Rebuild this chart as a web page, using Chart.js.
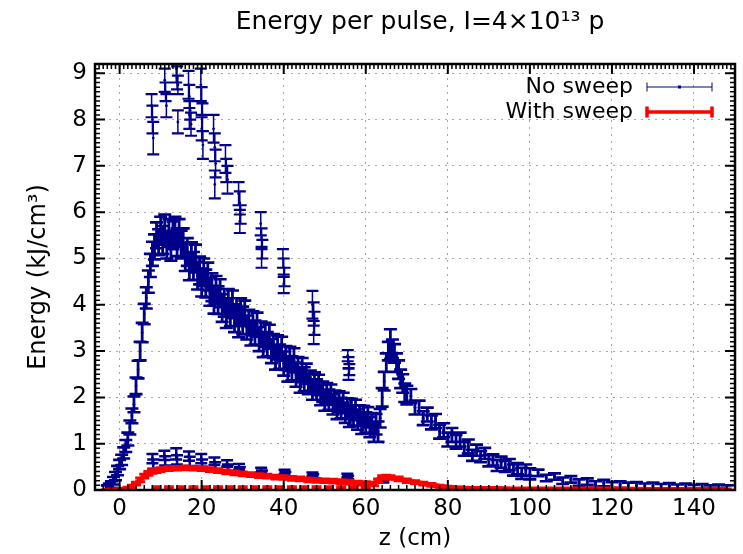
<!DOCTYPE html>
<html>
<head>
<meta charset="utf-8">
<title>Energy per pulse</title>
<script src="https://cdn.jsdelivr.net/npm/chart.js@4.4.1/dist/chart.umd.min.js"></script>
<style>
  html, body { margin: 0; padding: 0; background: #fff; }
</style>
</head>
<body>
<canvas id="myChart" width="743" height="554"></canvas>
<script>
// DATOS: z (cm), energia (kJ/cm3) y barra de error

// No sweep, banda principal
const zMain = [-3, -2.5, -2, -1.5, -1, -0.5, 0, 0.5, 1, 1.5, 2, 2.5, 3, 3.5, 4, 4.5, 5, 5.5, 6, 6.5, 7, 7.5, 8, 8.5, 9, 9.5, 10, 10.5, 11, 11.5, 12, 12.5, 13, 13.5, 14, 14.5, 15,
  15.5, 16, 16.5, 17, 17.5, 18, 18.5, 19, 19.5, 20, 20.5, 21, 21.5, 22, 22.5, 23, 23.5, 24, 24.5, 25, 25.5, 26, 26.5, 27, 27.5, 28, 28.5, 29, 29.5, 30,
  30.5, 31, 31.5, 32, 32.5, 33, 33.5, 34, 34.5, 35, 35.5, 36, 36.5, 37, 37.5, 38, 38.5, 39, 39.5, 40, 40.5, 41, 41.5, 42, 42.5, 43, 43.5, 44, 44.5, 45,
  45.5, 46, 46.5, 47, 47.5, 48, 48.5, 49, 49.5, 50, 50.5, 51, 51.5, 52, 52.5, 53, 53.5, 54, 54.5, 55, 55.5, 56, 56.5, 57, 57.5, 58, 58.5, 59, 59.5, 60, 60.5, 61, 61.5, 62, 62.5, 63,
  63.5, 64, 64.5, 65, 65.5, 66, 66.5, 67, 67.5, 68, 68.5, 69, 69.5, 70,
  71, 72, 73, 74, 75, 76, 77, 78, 79, 80, 81, 82, 83, 84, 85, 86, 87, 88, 89, 90, 91, 92, 93, 94, 95, 96, 97, 98, 99, 100,
  102, 104, 106, 108, 110, 112, 114, 116, 118, 120, 122, 124, 126, 128, 130, 132, 134, 136, 138, 140, 142, 144, 146, 148];
const eMain = [0.05, 0.08, 0.12, 0.2, 0.3, 0.42, 0.55, 0.65, 0.8, 0.95, 1.1, 1.35, 1.6, 1.85, 2.25, 2.6, 3.0, 3.4, 3.8, 4.15, 4.5, 4.85, 5.1, 5.25, 5.5, 5.35, 5.6, 5.4, 5.65, 5.3, 5.55, 5.25, 5.5, 5.6, 5.35, 5.55, 5.3,
  5.35, 5.03, 5.14, 4.83, 5.05, 4.84, 5.0, 4.63, 4.74, 4.48, 4.7, 4.46, 4.61, 4.28, 4.38, 4.11, 4.32, 4.1, 4.25, 3.93, 4.04, 3.8, 4.04, 3.84, 4.01, 3.71, 3.84, 3.6, 3.84, 3.66,
  3.83, 3.51, 3.63, 3.38, 3.6, 3.4, 3.57, 3.26, 3.38, 3.13, 3.35, 3.15, 3.31, 3.0, 3.11, 2.86, 3.08, 2.88, 3.05, 2.73, 2.85, 2.6, 2.83, 2.63, 2.8, 2.49, 2.61, 2.36, 2.59, 2.39,
  2.51, 2.29, 2.36, 2.17, 2.32, 2.17, 2.27, 2.05, 2.12, 1.93, 2.09, 1.95, 2.06, 1.85, 1.93, 1.75, 1.91, 1.77, 1.88, 1.67, 1.76, 1.58, 1.75, 1.61, 1.73, 1.52, 1.61, 1.43, 1.6, 1.46, 1.57, 1.36, 1.44, 1.26, 1.42, 1.26,
  1.55, 2.0, 2.35, 2.75, 3.0, 3.15, 3.05, 2.95, 2.75, 2.6, 2.4, 2.3, 2.1, 2.05,
  2.03, 1.78, 1.78, 1.55, 1.63, 1.46, 1.49, 1.26, 1.29, 1.09, 1.19, 1.04, 1.09, 0.89, 0.94, 0.75, 0.86, 0.72, 0.79, 0.63, 0.65, 0.53, 0.6, 0.51, 0.55, 0.43, 0.46, 0.36, 0.43, 0.35,
  0.37, 0.26, 0.29, 0.2, 0.23, 0.16, 0.18, 0.12, 0.15, 0.1, 0.12, 0.09, 0.1, 0.07, 0.09, 0.06, 0.08, 0.05, 0.07, 0.04, 0.06, 0.03, 0.05, 0.03];
const dMain = [0.05, 0.06, 0.07, 0.08, 0.09, 0.1, 0.1, 0.11, 0.12, 0.13, 0.14, 0.15, 0.16, 0.17, 0.18, 0.19, 0.2, 0.21, 0.22, 0.23, 0.24, 0.25, 0.26, 0.27, 0.28, 0.28, 0.3, 0.3, 0.3, 0.3, 0.3, 0.3, 0.3, 0.3, 0.3, 0.3, 0.3,
  0.3, 0.3, 0.3, 0.3, 0.3, 0.3, 0.3, 0.3, 0.3, 0.3, 0.3, 0.3, 0.3, 0.3, 0.3, 0.3, 0.3, 0.3, 0.3, 0.3, 0.3, 0.3, 0.3, 0.3, 0.3, 0.3, 0.3, 0.3, 0.3, 0.3,
  0.26, 0.26, 0.26, 0.26, 0.26, 0.26, 0.26, 0.26, 0.26, 0.26, 0.26, 0.26, 0.26, 0.26, 0.26, 0.26, 0.26, 0.26, 0.26, 0.26, 0.26, 0.26, 0.26, 0.26, 0.26, 0.26, 0.26, 0.26, 0.26, 0.26,
  0.22, 0.22, 0.22, 0.22, 0.22, 0.22, 0.22, 0.22, 0.22, 0.22, 0.22, 0.22, 0.22, 0.22, 0.22, 0.22, 0.22, 0.22, 0.22, 0.22, 0.22, 0.22, 0.22, 0.22, 0.22, 0.22, 0.22, 0.22, 0.22, 0.22, 0.22, 0.22, 0.22, 0.22, 0.22, 0.22,
  0.2, 0.2, 0.2, 0.2, 0.2, 0.32, 0.2, 0.2, 0.2, 0.2, 0.2, 0.2, 0.2, 0.2,
  0.15, 0.15, 0.15, 0.15, 0.15, 0.15, 0.15, 0.15, 0.15, 0.15, 0.15, 0.15, 0.15, 0.15, 0.15, 0.12, 0.12, 0.12, 0.12, 0.12, 0.12, 0.12, 0.12, 0.12, 0.12, 0.12, 0.12, 0.12, 0.12, 0.12,
  0.07, 0.07, 0.07, 0.07, 0.07, 0.07, 0.07, 0.07, 0.07, 0.07, 0.07, 0.07, 0.07, 0.07, 0.07, 0.07, 0.07, 0.07, 0.07, 0.07, 0.07, 0.07, 0.07, 0.07];

// No sweep, puntos sueltos altos
const zUp = [7.8, 8.0, 8.2, 11.0, 11.2, 11.4, 13.8, 14.0, 14.2, 14.2, 16.8, 17.0, 17.2, 17.0, 17.4, 19.8, 20.0, 20.2, 20.0, 20.3,
  22.9, 23.2, 23.4, 23.2, 25.8, 26.0, 26.3, 29.0, 29.3, 29.5, 29.3, 34.4, 34.6, 34.8, 34.6, 39.8, 40.0, 40.2, 40.0, 47.0, 47.3, 47.5, 47.3, 55.6, 55.8, 56.0, 55.8];
const eUp = [8.3, 8.0, 7.6, 8.85, 8.6, 8.3, 9.1, 8.9, 8.75, 7.95, 8.75, 8.5, 8.2, 8.1, 7.9, 8.75, 8.4, 8.05, 7.8, 7.45,
  7.8, 7.4, 7.05, 6.6, 7.15, 6.9, 6.7, 6.4, 6.2, 5.95, 5.8, 5.75, 5.45, 5.2, 5.0, 5.0, 4.8, 4.6, 4.45, 4.0, 3.8, 3.6, 3.4, 2.9, 2.75, 2.6, 2.5];
const dUp = [0.25, 0.3, 0.35, 0.25, 0.2, 0.25, 0.3, 0.25, 0.2, 0.25, 0.3, 0.25, 0.2, 0.3, 0.25, 0.35, 0.3, 0.3, 0.25, 0.3,
  0.3, 0.3, 0.3, 0.3, 0.3, 0.25, 0.3, 0.25, 0.25, 0.2, 0.25, 0.25, 0.2, 0.2, 0.2, 0.2, 0.2, 0.2, 0.2, 0.3, 0.25, 0.25, 0.25, 0.12, 0.12, 0.12, 0.12];

// No sweep, puntos sueltos bajos
const zLow = [8.0, 8.2, 10.9, 11.1, 13.8, 14.0, 16.9, 17.1, 19.9, 20.1, 23.1, 23.3, 26.2, 26.4, 29.1, 29.3, 34.5, 34.7, 40.2, 40.4, 47.0, 47.2, 55.5, 55.7, 64.1, 64.3];
const eLow = [0.68, 0.56, 0.75, 0.63, 0.78, 0.65, 0.73, 0.62, 0.68, 0.58, 0.62, 0.52, 0.57, 0.48, 0.5, 0.43, 0.43, 0.37, 0.39, 0.34, 0.34, 0.3, 0.31, 0.27, 0.22, 0.19];
const dLow = [0.1, 0.1, 0.1, 0.1, 0.12, 0.1, 0.1, 0.1, 0.1, 0.08, 0.08, 0.08, 0.07, 0.07, 0.06, 0.06, 0.05, 0.05, 0.05, 0.05, 0.04, 0.04, 0.04, 0.04, 0.03, 0.03];

// With sweep
const zRed = [-3, -2, -1, 0, 1, 2, 3, 4, 5, 6, 7, 8, 9, 10, 12, 14, 16, 18, 20, 22, 24, 26, 28, 30, 32, 34, 36, 38, 40, 42, 44, 46, 48, 50,
  52, 54, 56, 58, 60, 62, 63, 64, 65, 66, 68, 70, 72, 74, 76, 78, 80, 84, 88, 92, 96, 100, 110, 120, 130, 140, 148];
const eRed = [0, 0, 0, 0.01, 0.02, 0.04, 0.08, 0.14, 0.22, 0.3, 0.36, 0.4, 0.42, 0.44, 0.46, 0.47, 0.48, 0.47, 0.46, 0.44, 0.42, 0.39, 0.37, 0.35, 0.33, 0.31, 0.3, 0.28, 0.27, 0.25, 0.24, 0.22, 0.21, 0.2,
  0.19, 0.18, 0.17, 0.15, 0.14, 0.13, 0.2, 0.27, 0.28, 0.27, 0.24, 0.2, 0.17, 0.14, 0.11, 0.08, 0.06, 0.04, 0.03, 0.03, 0.02, 0.02, 0.02, 0.02, 0.01, 0.01, 0.01];
const dRed = [0.01, 0.01, 0.01, 0.01, 0.01, 0.02, 0.02, 0.03, 0.04, 0.04, 0.04, 0.04, 0.04, 0.04, 0.04, 0.04, 0.04, 0.04, 0.04, 0.04, 0.04, 0.04, 0.04, 0.04, 0.04, 0.04, 0.04, 0.04, 0.04, 0.04, 0.04, 0.04, 0.04, 0.04,
  0.04, 0.04, 0.04, 0.04, 0.04, 0.04, 0.04, 0.04, 0.04, 0.04, 0.04, 0.04, 0.03, 0.03, 0.03, 0.02, 0.02, 0.02, 0.01, 0.01, 0.01, 0.01, 0.01, 0.01, 0.01, 0.01, 0.01];

// With sweep, puntos en cero
const zRed0 = [9, 12, 15, 18, 21, 24, 27, 30, 33, 36, 39, 42, 45, 48, 51, 54, 57, 60];
const eRed0 = [0.06, 0.06, 0.06, 0.06, 0.06, 0.06, 0.06, 0.06, 0.06, 0.06, 0.06, 0.06, 0.06, 0.06, 0.06, 0.06, 0.06, 0.06];
const dRed0 = [0.01, 0.01, 0.01, 0.01, 0.01, 0.01, 0.01, 0.01, 0.01, 0.01, 0.01, 0.01, 0.01, 0.01, 0.01, 0.01, 0.01, 0.01];

// EJES
const xTicks = [0, 20, 40, 60, 80, 100, 120, 140];
const yTicks = [0, 1, 2, 3, 4, 5, 6, 7, 8, 9];
const titleText = 'Energy per pulse, I=4×10¹³ p';

const fam = '"DejaVu Sans", sans-serif';
const blue = 'rgb(0,0,139)';
const red = 'rgb(255,0,0)';

function toPts(zs, es) {
  return zs.map(function (z, i) { return { x: z, y: es[i] }; });
}

// Barras de error dibujadas con las escalas del grafico
const errorBars = {
  id: 'errorBars',
  afterDatasetDraw(chart, args) {
    const ds = chart.data.datasets[args.index];
    if (!ds.errors) return;
    const ctx = chart.ctx, xs = chart.scales.x, ys = chart.scales.y, a = chart.chartArea;
    ctx.save();
    ctx.beginPath();
    ctx.rect(a.left, a.top, a.right - a.left, a.bottom - a.top);
    ctx.clip();
    ctx.strokeStyle = ds.borderColor;
    // linea vertical
    ctx.lineWidth = ds.errWidth;
    ctx.beginPath();
    ds.data.forEach(function (p, i) {
      const px = xs.getPixelForValue(p.x);
      ctx.moveTo(px, ys.getPixelForValue(p.y + ds.errors[i]));
      ctx.lineTo(px, ys.getPixelForValue(p.y - ds.errors[i]));
    });
    ctx.stroke();
    // topes
    ctx.lineWidth = ds.capWidth;
    ctx.beginPath();
    ds.data.forEach(function (p, i) {
      const px = xs.getPixelForValue(p.x);
      const hi = ys.getPixelForValue(p.y + ds.errors[i]);
      const lo = ys.getPixelForValue(p.y - ds.errors[i]);
      ctx.moveTo(px - ds.cap, hi); ctx.lineTo(px + ds.cap, hi);
      ctx.moveTo(px - ds.cap, lo); ctx.lineTo(px + ds.cap, lo);
    });
    ctx.stroke();
    ctx.restore();
  }
};

// Marco, marcas hacia dentro, titulo y leyenda al estilo gnuplot
const frame = {
  id: 'frame',
  afterDraw(chart) {
    const ctx = chart.ctx, xs = chart.scales.x, ys = chart.scales.y, a = chart.chartArea;
    ctx.save();
    ctx.strokeStyle = '#000';
    ctx.lineWidth = 1.5;
    ctx.beginPath();
    for (let k = -2; k <= 74; k++) {
      const px = xs.getPixelForValue(k * 2);
      ctx.moveTo(px, a.bottom); ctx.lineTo(px, a.bottom - 5);
    }
    for (let k = -6; k <= 150; k++) {
      const px = xs.getPixelForValue(k);
      ctx.moveTo(px, a.top); ctx.lineTo(px, a.top + 5);
    }
    for (let k = 1; k <= 92; k++) {
      const py = ys.getPixelForValue(k / 10);
      ctx.moveTo(a.left, py); ctx.lineTo(a.left + 5, py);
      ctx.moveTo(a.right, py); ctx.lineTo(a.right - 5, py);
    }
    ctx.stroke();
    ctx.lineWidth = 2;
    ctx.beginPath();
    xTicks.forEach(function (v) {
      const px = xs.getPixelForValue(v);
      ctx.moveTo(px, a.bottom); ctx.lineTo(px, a.bottom - 10);
      ctx.moveTo(px, a.top); ctx.lineTo(px, a.top + 10);
    });
    yTicks.forEach(function (v) {
      const py = ys.getPixelForValue(v);
      ctx.moveTo(a.left, py); ctx.lineTo(a.left + 10, py);
      ctx.moveTo(a.right, py); ctx.lineTo(a.right - 10, py);
    });
    ctx.stroke();
    ctx.lineWidth = 2.5;
    ctx.strokeRect(a.left, a.top, a.right - a.left, a.bottom - a.top);

    // titulo
    ctx.fillStyle = '#000';
    ctx.textBaseline = 'middle';
    ctx.textAlign = 'center';
    ctx.font = '25px ' + fam;
    ctx.fillText(titleText, 420, 22);

    // leyenda
    ctx.font = '22px ' + fam;
    ctx.textAlign = 'right';
    const rows = ['No sweep', 'With sweep'];
    rows.forEach(function (lab, i) {
      const ds = chart.data.datasets.find(function (d) { return d.label === lab; });
      const y = 87 + i * 25;
      ctx.fillStyle = '#000';
      ctx.fillText(lab, 633, y);
      const thick = ds.showLine;
      const x0 = 647, x1 = 712, c = thick ? 5.5 : 4.5;
      ctx.strokeStyle = ds.borderColor;
      ctx.lineWidth = thick ? 3.5 : 1;
      ctx.beginPath();
      ctx.moveTo(x0, y); ctx.lineTo(x1, y);
      ctx.moveTo(x0, y - c); ctx.lineTo(x0, y + c);
      ctx.moveTo(x1, y - c); ctx.lineTo(x1, y + c);
      ctx.stroke();
      if (!thick) {
        ctx.fillStyle = ds.borderColor;
        ctx.fillRect((x0 + x1) / 2 - 1.5, y - 1.5, 3, 3);
      }
    });
    ctx.restore();
  }
};

const ctx = document.getElementById('myChart');

new Chart(ctx, {
  type: 'scatter',
  data: {
    datasets: [
      { label: 'With sweep', data: toPts(zRed, eRed), errors: dRed, showLine: true, borderColor: red, backgroundColor: red,
        borderWidth: 5, pointRadius: 0, errWidth: 3, capWidth: 3, cap: 5 },
      { data: toPts(zRed0, eRed0), errors: dRed0, borderColor: red, backgroundColor: red, pointRadius: 0, errWidth: 3, capWidth: 3, cap: 5 },
      { label: 'No sweep', data: toPts(zMain, eMain), errors: dMain, borderColor: blue, backgroundColor: blue,
        pointRadius: 1.4, borderWidth: 0, errWidth: 2.8, capWidth: 2.6, cap: 6.5 },
      { data: toPts(zUp, eUp), errors: dUp, borderColor: blue, backgroundColor: blue, pointRadius: 1.4, borderWidth: 0, errWidth: 1.5, capWidth: 2.2, cap: 6 },
      { data: toPts(zLow, eLow), errors: dLow, borderColor: blue, backgroundColor: blue, pointRadius: 1.4, borderWidth: 0, errWidth: 2.5, capWidth: 2.5, cap: 6 }
    ]
  },
  options: {
    responsive: false,
    animation: false,
    layout: { padding: { top: 64, right: 8, left: 0, bottom: 0 } },
    plugins: { legend: { display: false }, tooltip: { enabled: false } },
    scales: {
      x: {
        type: 'linear', min: -6, max: 150,
        afterBuildTicks: function (s) { s.ticks = xTicks.map(function (v) { return { value: v }; }); },
        afterFit: function (s) { s.height = 64; },
        grid: { color: '#a8a8a8', lineWidth: 1, drawTicks: false },
        border: { display: false, dash: [2, 5] },
        ticks: { color: '#000', padding: 5, maxRotation: 0, font: { family: fam, size: 23 } },
        title: { display: true, text: 'z (cm)', color: '#000', font: { family: fam, size: 23 }, padding: { top: 0, bottom: 1 } }
      },
      y: {
        type: 'linear', min: 0, max: 9.2,
        afterBuildTicks: function (s) { s.ticks = yTicks.map(function (v) { return { value: v }; }); },
        afterFit: function (s) { s.width = 95; },
        grid: { color: '#a8a8a8', lineWidth: 1, drawTicks: false },
        border: { display: false, dash: [2, 5] },
        ticks: { color: '#000', padding: 8, font: { family: fam, size: 23 } },
        title: { display: true, text: 'Energy (kJ/cm³)', color: '#000', font: { family: fam, size: 24 }, padding: { top: 24, bottom: 0 } }
      }
    }
  },
  plugins: [errorBars, frame]
});
</script>
</body>
</html>
